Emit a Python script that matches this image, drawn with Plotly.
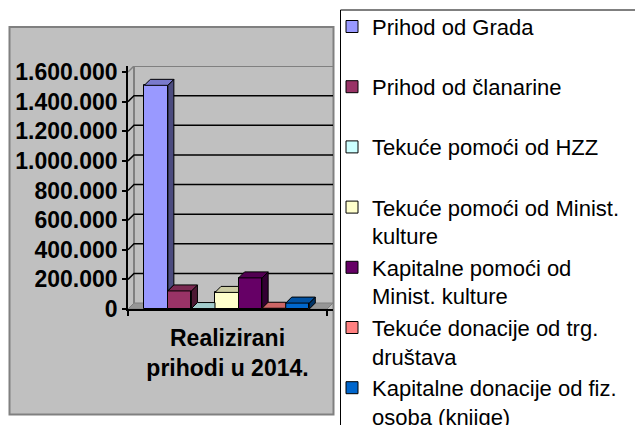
import plotly.graph_objects as go

# ---------------- data ----------------
series_names = [
    "Prihod od Grada",
    "Prihod od članarine",
    "Tekuće pomoći od HZZ",
    "Tekuće pomoći od Minist. kulture",
    "Kapitalne pomoći od Minist. kulture",
    "Tekuće donacije od trg. društava",
    "Kapitalne donacije od fiz. osoba (knjige)",
]
legend_labels = [
    "Prihod od Grada<br>\u200b",
    "Prihod od članarine<br>\u200b",
    "Tekuće pomoći od HZZ<br>\u200b",
    "Tekuće pomoći od Minist.<br>kulture",
    "Kapitalne pomoći od<br>Minist. kulture",
    "Tekuće donacije od trg.<br>društava",
    "Kapitalne donacije od fiz.<br>osoba (knjige)",
]
values = [1510000, 122000, 3000, 112000, 210000, 5000, 40000]
colors = ["#9999FF", "#993366", "#CCFFFF", "#FFFFCC", "#660066", "#FF8080", "#0066CC"]
category_label = "Realizirani<br>prihodi u 2014."
y_tickvals = [0, 200000, 400000, 600000, 800000, 1000000, 1200000, 1400000, 1600000]
y_ticktext = ["0", "200.000", "400.000", "600.000", "800.000", "1.000.000",
              "1.200.000", "1.400.000", "1.600.000"]

# ---------------- geometry (layout constants) ----------------
W, H = 635, 425
PL, PR, PT, PB = 128, 333, 66, 309          # plot area in px
px_per_unit = 23.57                          # one bar width in px
x_start = (144.3 - PL) / px_per_unit         # left edge of first bar
xf = (327 - PL) / px_per_unit                # front plane right edge
xb = (PR - PL) / px_per_unit                 # back wall right edge
dx = xb - xf                                 # depth offset (x units)
ytop = y_tickvals[-1]
dy = ytop * 6.0 / (PB - 72)                  # depth offset (y units)
ymax = ytop + dy


def shade(hexcol, f):
    h = hexcol.lstrip("#")
    r, g, b = (int(h[i:i + 2], 16) for i in (0, 2, 4))
    return "#%02X%02X%02X" % (int(r * f), int(g * f), int(b * f))


fig = go.Figure()

# front faces (bars)
for i, (nm, lab, v, c) in enumerate(zip(series_names, legend_labels, values, colors)):
    fig.add_trace(go.Bar(
        x=[x_start + i + 0.5], y=[v], width=1.0, name=lab,
        marker=dict(color=c, line=dict(color="black", width=1)),
        hovertext=[nm], hoverinfo="text+y",
    ))

# side and top faces (3D look), derived from the values
n_bars = len(values)
for i, (v, c) in enumerate(zip(values, colors)):
    L = x_start + i
    R = L + 1.0
    nxt = values[i + 1] if i + 1 < n_bars else None
    h0 = nxt if nxt is not None else 0
    if v > h0:
        fig.add_trace(go.Scatter(
            x=[R, R + dx, R + dx, R, R], y=[h0, h0 + dy, v + dy, v, h0],
            mode="lines", fill="toself", fillcolor=shade(c, 0.5),
            line=dict(color="black", width=1), showlegend=False, hoverinfo="skip"))
    if nxt is not None and nxt > v:
        tx = [L, L + dx, R, R, L]
    else:
        tx = [L, L + dx, R + dx, R, L]
    fig.add_trace(go.Scatter(
        x=tx, y=[v, v + dy, v + dy, v, v],
        mode="lines", fill="toself", fillcolor=shade(c, 0.8),
        line=dict(color="black", width=1), showlegend=False, hoverinfo="skip"))

shapes = []
# outer chart area (grey panel)
shapes.append(dict(type="rect", xref="paper", yref="paper", layer="below",
                   x0=(9.5 - PL) / (PR - PL), x1=(333.5 - PL) / (PR - PL),
                   y0=(PB - 414.5) / (PB - PT), y1=(PB - 27) / (PB - PT),
                   fillcolor="#C0C0C0", line=dict(color="#808080", width=2)))
# legend frame
shapes.append(dict(type="rect", xref="paper", yref="paper", layer="below",
                   x0=(340.5 - PL) / (PR - PL), x1=(700 - PL) / (PR - PL),
                   y0=(PB - 480) / (PB - PT), y1=(PB - 10) / (PB - PT),
                   fillcolor="white", line=dict(color="black", width=1)))
# floor
shapes.append(dict(type="path", xref="x", yref="y", layer="below",
                   path=f"M0,0 L{dx},{dy} L{xb},{dy} L{xf},0 Z",
                   fillcolor="#969696", line=dict(color="#808080", width=1)))
# back wall edges
shapes.append(dict(type="path", xref="x", yref="y", layer="below",
                   path=f"M{dx},{dy} L{dx},{ymax} L{xb},{ymax}",
                   line=dict(color="#808080", width=2)))
shapes.append(dict(type="path", xref="x", yref="y", layer="below",
                   path=f"M0,0 L{dx},{dy}", line=dict(color="#808080", width=1)))
shapes.append(dict(type="path", xref="x", yref="y", layer="below",
                   path=f"M0,{ytop} L{dx},{ymax}", line=dict(color="#808080", width=1.5)))
# gridlines on side + back wall
for t in y_tickvals[1:-1]:
    shapes.append(dict(type="path", xref="x", yref="y", layer="below",
                       path=f"M0,{t} L{dx},{t + dy} L{xb},{t + dy}",
                       line=dict(color="black", width=1.5)))

FONT = "Liberation Sans, Arial, sans-serif"

fig.update_layout(
    width=W, height=H,
    margin=dict(l=PL, r=W - PR, t=PT, b=H - PB, autoexpand=False),
    paper_bgcolor="white", plot_bgcolor="rgba(0,0,0,0)",
    barmode="overlay", bargap=0,
    shapes=shapes,
    showlegend=True,
    legend=dict(
        xref="container", yref="container",
        x=332 / W, y=1 - 5.7 / H, xanchor="left", yanchor="top",
        font=dict(family=FONT, size=22, color="black"),
        bgcolor="rgba(0,0,0,0)", borderwidth=0, valign="top",
        traceorder="normal", maxheight=1000, itemwidth=30,
    ),
    xaxis=dict(
        range=[0, xb], showgrid=False, zeroline=False,
        showline=True, linecolor="black", linewidth=1.5,
        tickmode="array", tickvals=[xf / 2], ticktext=[category_label], ticks="",
        ticklabelstandoff=8,
        tickfont=dict(family=FONT, size=23, color="black", weight="bold"),
        minor=dict(tickmode="array", tickvals=[0, xf], ticks="outside", ticklen=5,
                   tickwidth=1.5, tickcolor="black", showgrid=False),
        fixedrange=True,
    ),
    yaxis=dict(
        range=[0, ymax], showgrid=False, zeroline=False,
        showline=True, linecolor="black", linewidth=1.5,
        tickmode="array", tickvals=y_tickvals, ticktext=y_ticktext,
        ticks="outside", ticklen=4, tickwidth=1.5, tickcolor="black",
        tickfont=dict(family=FONT, size=23, color="black", weight="bold"),
        fixedrange=True,
    ),
)

fig.write_html(
    "out.html",
    config={"displayModeBar": False},
    post_script="document.body.style.margin='0';document.body.style.overflow='hidden';",
)
